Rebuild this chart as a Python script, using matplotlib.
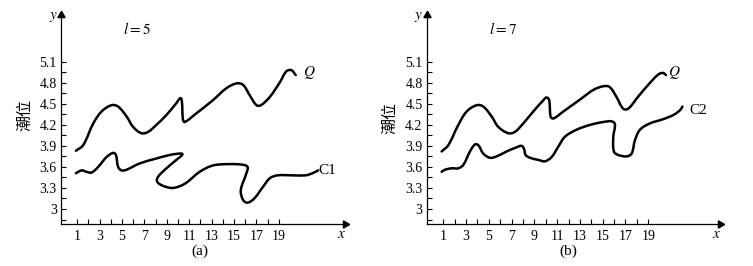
import numpy as np
import matplotlib
matplotlib.use("Agg")
import matplotlib.pyplot as plt
from matplotlib.path import Path
from matplotlib.patches import PathPatch

plt.rcParams['font.family'] = ['Liberation Serif', 'DejaVu Serif']
plt.rcParams['mathtext.fontset'] = 'stix'

# ---------------- data ----------------
x_ticks_major = [1, 3, 5, 7, 9, 11, 13, 15, 17, 19]
x_ticks_minor = list(range(1, 20))
y_ticks_major = [3, 3.3, 3.6, 3.9, 4.2, 4.5, 4.8, 5.1]
y_tick_labels = ['3', '3.3', '3.6', '3.9', '4.2', '4.5', '4.8', '5.1']
y_ticks_minor = [2.85, 3.0, 3.15, 3.3, 3.45, 3.6, 3.75, 3.9, 4.05, 4.2,
                 4.35, 4.5, 4.65, 4.8, 4.95, 5.1]

# panel (a), l = 5
q_a_x = [0.88, 1.53, 2.43, 3.17, 4.06, 4.65, 5.40, 5.99, 6.73, 7.33, 8.07, 8.96,
         9.85, 10.2, 10.33, 10.44, 10.6, 11.6, 13.1, 14.3, 15.2, 15.8, 16.4, 17.0,
         17.4, 18.2, 19.1, 19.65, 20.1, 20.5]
q_a_y = [3.83, 3.91, 4.22, 4.39, 4.48, 4.46, 4.32, 4.17, 4.08, 4.10, 4.20, 4.34,
         4.51, 4.58, 4.55, 4.27, 4.24, 4.36, 4.55, 4.72, 4.79, 4.77, 4.62, 4.48,
         4.48, 4.60, 4.81, 4.96, 4.98, 4.91]
c1_x = [0.88, 1.39, 1.83, 2.28, 2.87, 3.61, 4.21, 4.45, 4.65, 4.95, 5.40, 6.58,
        8.07, 9.26, 10.15, 10.39, 10.0, 8.96, 8.22, 8.13, 8.66, 9.55, 10.6, 11.93,
        13.1, 14.6, 15.8, 16.2, 16.1, 15.6, 15.8, 16.2, 16.8, 17.6, 18.2, 18.9,
        20.2, 21.4, 22.0, 22.5]
c1_y = [3.51, 3.55, 3.53, 3.52, 3.60, 3.74, 3.80, 3.77, 3.60, 3.55, 3.56, 3.65,
        3.72, 3.77, 3.79, 3.78, 3.72, 3.58, 3.46, 3.39, 3.33, 3.30, 3.36, 3.53,
        3.62, 3.64, 3.63, 3.60, 3.51, 3.27, 3.13, 3.09, 3.15, 3.32, 3.44, 3.48,
        3.48, 3.48, 3.51, 3.55]

# panel (b), l = 7
q_b_x = [0.85, 1.44, 2.32, 3.05, 3.93, 4.51, 5.24, 5.83, 6.71, 7.29, 8.02, 8.9,
         9.78, 10.07, 10.3, 10.42, 10.66, 11.54, 13.0, 14.2, 15.05, 15.6, 16.2,
         16.8, 17.24, 18.1, 19.1, 19.9, 20.3, 20.55]
q_b_y = [3.82, 3.91, 4.20, 4.39, 4.48, 4.46, 4.32, 4.17, 4.08, 4.10, 4.22, 4.39,
         4.55, 4.59, 4.55, 4.32, 4.29, 4.39, 4.56, 4.70, 4.75, 4.74, 4.60, 4.43,
         4.43, 4.60, 4.79, 4.92, 4.94, 4.91]
c2_x = [0.85, 1.15, 1.73, 2.32, 2.76, 3.34, 3.78, 4.07, 4.51, 5.10, 5.68, 6.56,
        7.44, 7.88, 8.08, 8.23, 8.61, 9.34, 9.93, 10.51, 11.1, 11.68, 12.7, 13.9,
        15.05, 15.78, 16.07, 15.93, 15.98, 16.37, 17.1, 17.54, 17.83, 18.27,
        19.14, 20.3, 21.2, 21.8, 22.0]
c2_y = [3.53, 3.56, 3.58, 3.58, 3.63, 3.82, 3.92, 3.91, 3.79, 3.73, 3.75, 3.82,
        3.88, 3.90, 3.86, 3.77, 3.73, 3.70, 3.68, 3.74, 3.89, 4.03, 4.13, 4.20,
        4.24, 4.25, 4.21, 4.03, 3.82, 3.77, 3.75, 3.79, 3.98, 4.13, 4.22, 4.28,
        4.34, 4.41, 4.46]

W, H = 753, 266
AX_BOTTOM = 223.5   # pixel row of the x axis
AX_TOP = 15.0

panels = [
    dict(left=61, right=345, xlim=(-0.45, 24.9),
         curves=[(q_a_x, q_a_y), (c1_x, c1_y)], lval='$l = 5$', lx=137,
         labels=[('$Q$', 21.7, 4.95), ('C1', 23.3, 3.55)]),
    dict(left=426.7, right=720, xlim=(-0.46, 25.3),
         curves=[(q_b_x, q_b_y), (c2_x, c2_y)], lval='$l = 7$', lx=503,
         labels=[('$Q$', 21.3, 4.95), ('C2', 23.35, 4.41)]),
]

fig = plt.figure(figsize=(W / 100, H / 100), dpi=100)


def smooth_curve(ax, xs, ys, **kw):
    P = ax.transData.transform(np.column_stack([xs, ys]))
    n = len(P)
    tang = []
    for i in range(n):
        a = P[max(i - 1, 0)]
        b = P[min(i + 1, n - 1)]
        d = b - a
        nd = np.hypot(*d)
        tang.append(d / nd if nd > 0 else d)
    verts = [P[0]]
    codes = [Path.MOVETO]
    for i in range(n - 1):
        L = np.hypot(*(P[i + 1] - P[i]))
        c1 = P[i] + tang[i] * L / 3
        c2 = P[i + 1] - tang[i + 1] * L / 3
        verts += [c1, c2, P[i + 1]]
        codes += [Path.CURVE4] * 3
    verts = ax.transData.inverted().transform(np.array(verts))
    ax.add_patch(PathPatch(Path(verts, codes), facecolor='none', **kw))


for p in panels:
    ax = fig.add_axes([p['left'] / W, (H - AX_BOTTOM) / H,
                       (p['right'] - p['left']) / W, (AX_BOTTOM - AX_TOP) / H])
    ax.set_xlim(*p['xlim'])
    ax.set_ylim(2.793, 5.766)
    for s in ['top', 'right']:
        ax.spines[s].set_visible(False)
    for s in ['left', 'bottom']:
        ax.spines[s].set_linewidth(0.9)
    ax.plot(1, 0, marker=(3, 0, -90), ms=6, color='k', transform=ax.transAxes,
            clip_on=False)
    ax.plot(0, 1, marker=(3, 0, 0), ms=6, color='k', transform=ax.transAxes,
            clip_on=False)
    ax.set_xticks(x_ticks_major)
    ax.set_xticks(x_ticks_minor, minor=True)
    ax.set_yticks(y_ticks_major, y_tick_labels)
    ax.set_yticks(y_ticks_minor, minor=True)
    ax.tick_params(which='both', direction='in', length=3.5, width=0.8,
                   labelsize=10, pad=3)
    ax.tick_params(axis='x', pad=4.5)
    for xs, ys in p['curves']:
        smooth_curve(ax, xs, ys, edgecolor='black', linewidth=1.8,
                     joinstyle='round', capstyle='round')
    for t, x, y in p['labels']:
        ax.text(x, y, t, fontsize=11, ha='center', va='center')
    fig.text(p['lx'] / W, 1 - 29 / H, p['lval'], fontsize=11,
             ha='center', va='center')
    fig.text((p['left'] - 8) / W, 1 - 17 / H, '$y$', fontsize=11,
             ha='center', va='center')
    fig.text((p['right'] - 3) / W, 1 - 235 / H, '$x$', fontsize=11,
             ha='center', va='center')

fig.text(200 / W, 1 - 251.5 / H, '(a)', fontsize=11, ha='center', va='center')
fig.text(568 / W, 1 - 251.5 / H, '(b)', fontsize=11, ha='center', va='center')
fig.text(25 / W, 1 - 115 / H, '潮位', family=['Noto Sans CJK SC', 'DejaVu Sans'],
         fontsize=11.5, rotation=90, ha='center', va='center')
fig.text(390 / W, 1 - 118 / H, '潮位', family=['Noto Sans CJK SC', 'DejaVu Sans'],
         fontsize=11.5, rotation=90, ha='center', va='center')

fig.savefig('out.png', dpi=100, facecolor='white')
